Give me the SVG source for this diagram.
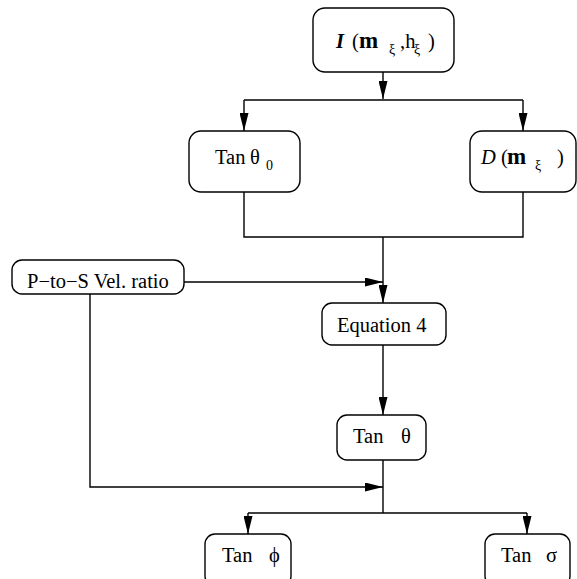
<svg xmlns="http://www.w3.org/2000/svg" width="577" height="579" viewBox="0 0 577 579">
<defs>
<style>
.box{fill:#fff;stroke:#000;stroke-width:1.4}
.ln{fill:none;stroke:#000;stroke-width:1.4}
.t{font-family:"Liberation Serif","Times New Roman",serif;font-size:20.5px;fill:#000}
.s{font-size:14px}
.m{font-weight:bold;font-size:23px}
</style>
<marker id="ahl" viewBox="0 0 20 10" refX="20" refY="5" markerWidth="18" markerHeight="9" markerUnits="userSpaceOnUse" orient="auto">
<path d="M0,0 L20,5 L0,10 z" fill="#000"/>
</marker>
</defs>
<g id="connectors">
<path class="ln" d="M383,72 V99" marker-end="url(#ahl)"/>
<path class="ln" d="M244,100 H523"/>
<path class="ln" d="M244,100 V131" marker-end="url(#ahl)"/>
<path class="ln" d="M523,100 V131" marker-end="url(#ahl)"/>
<path class="ln" d="M244,192 V237 H523 V192"/>
<path class="ln" d="M383,237 V303" marker-end="url(#ahl)"/>
<path class="ln" d="M184,282 H383" marker-end="url(#ahl)"/>
<path class="ln" d="M383,345 V415" marker-end="url(#ahl)"/>
<path class="ln" d="M90,294 V487 H383" marker-end="url(#ahl)"/>
<path class="ln" d="M383,460 V513"/>
<path class="ln" d="M248,513 H527"/>
<path class="ln" d="M248,513 V534" marker-end="url(#ahl)"/>
<path class="ln" d="M527,513 V534" marker-end="url(#ahl)"/>
</g>
<g id="node-I">
<rect class="box" x="313" y="8" width="141" height="64" rx="12"/>
<text class="t" y="48"><tspan x="336" font-weight="bold" font-style="italic">I</tspan><tspan x="352">(</tspan><tspan x="359" class="m">m</tspan><tspan x="389" class="s" dy="6">ξ</tspan><tspan x="400" dy="-6">,h</tspan><tspan x="414" class="s" dy="6">ξ</tspan><tspan x="428" dy="-6">)</tspan></text>
</g>
<g id="node-tan0">
<rect class="box" x="189" y="131" width="111" height="61" rx="12"/>
<text class="t" y="164"><tspan x="215">Tan</tspan><tspan x="250">θ</tspan><tspan x="266" class="s" dy="6">0</tspan></text>
</g>
<g id="node-D">
<rect class="box" x="470" y="131" width="106" height="61" rx="12"/>
<text class="t" y="164"><tspan x="481" font-style="italic">D</tspan><tspan x="501">(</tspan><tspan x="507" class="m">m</tspan><tspan x="535" class="s" dy="6">ξ</tspan><tspan x="557" dy="-6">)</tspan></text>
</g>
<g id="node-ps">
<rect class="box" x="12" y="260" width="172" height="34" rx="10"/>
<text class="t" x="27" y="288">P−to−S Vel. ratio</text>
</g>
<g id="node-eq">
<rect class="box" x="322" y="303" width="124" height="42" rx="10"/>
<text class="t" x="337" y="332">Equation 4</text>
</g>
<g id="node-tan">
<rect class="box" x="337" y="415" width="89" height="45" rx="10"/>
<text class="t" y="443"><tspan x="353">Tan</tspan><tspan x="401">θ</tspan></text>
</g>
<g id="node-phi">
<rect class="box" x="205" y="534" width="86" height="52" rx="10"/>
<text class="t" y="562"><tspan x="222">Tan</tspan><tspan x="269">ϕ</tspan></text>
</g>
<g id="node-sigma">
<rect class="box" x="485" y="534" width="85" height="52" rx="10"/>
<text class="t" y="562"><tspan x="501">Tan</tspan><tspan x="546">σ</tspan></text>
</g>
</svg>
